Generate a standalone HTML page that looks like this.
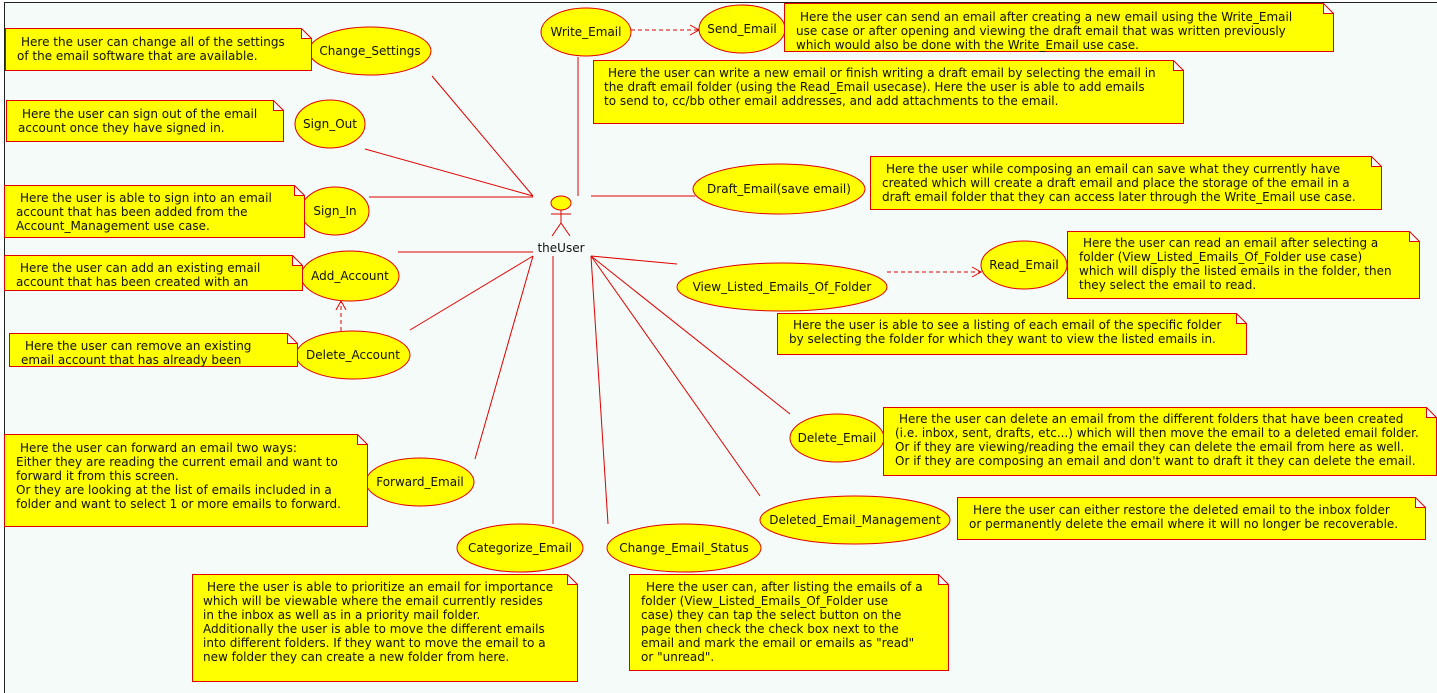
<!DOCTYPE html>
<html><head><meta charset="utf-8"><style>
html,body{margin:0;padding:0;background:#fff;width:1437px;height:693px;overflow:hidden}
svg{display:block}
text{font-family:"DejaVu Sans","Liberation Sans",sans-serif;font-size:12px;fill:#111}
.n{fill:#ffff00;stroke:#e00000;stroke-width:1}
.e{fill:#ffff00;stroke:#e00000;stroke-width:1}
.l{stroke:#e00000;stroke-width:1;fill:none}
.d{stroke:#e00000;stroke-width:1;fill:none;stroke-dasharray:4,3}
.c{text-anchor:middle}
</style></head><body>
<svg width="1437" height="693" xmlns="http://www.w3.org/2000/svg">
<rect x="0" y="0" width="1437" height="693" fill="#fff"/>
<rect x="4.5" y="2.5" width="1440" height="700" fill="#f5fbf8" stroke="#222" stroke-width="1"/>

<!-- lines -->
<line class="l" x1="533" y1="196" x2="432" y2="76"/>
<line class="l" x1="533" y1="196" x2="365" y2="149"/>
<line class="l" x1="533" y1="197" x2="369" y2="197"/>
<line class="l" x1="578" y1="196" x2="578" y2="57"/>
<line class="l" x1="591" y1="196" x2="695" y2="196"/>
<line class="l" x1="533" y1="252" x2="398" y2="252"/>
<line class="l" x1="533" y1="256" x2="410" y2="330"/>
<line class="l" x1="533" y1="256" x2="475" y2="459"/>
<line class="l" x1="553" y1="256" x2="553" y2="524"/>
<line class="l" x1="591" y1="256" x2="608" y2="524"/>
<line class="l" x1="591" y1="256" x2="760" y2="496"/>
<line class="l" x1="591" y1="256" x2="790" y2="414"/>
<line class="l" x1="591" y1="256" x2="677" y2="264"/>
<line class="d" x1="631" y1="30" x2="699" y2="30"/>
<polyline class="l" points="690,25 699,30 690,35"/>
<line class="d" x1="341" y1="331" x2="341" y2="301"/>
<polyline class="l" points="336,310 341,301 346,310"/>
<line class="d" x1="887" y1="272" x2="981" y2="272"/>
<polyline class="l" points="972,267 981,272 972,277"/>

<!-- actor -->
<ellipse cx="561" cy="203" rx="10" ry="7" class="e"/>
<line class="l" x1="561" y1="210" x2="561" y2="223"/>
<line class="l" x1="551" y1="214" x2="571" y2="214"/>
<polyline class="l" points="552,236 561,223 570,236"/>
<text x="561" y="252" class="c">theUser</text>

<!-- ellipses -->
<ellipse class="e" cx="586" cy="32" rx="45" ry="24"/><text class="c" x="586" y="36">Write_Email</text>
<ellipse class="e" cx="742" cy="29" rx="43" ry="24"/><text class="c" x="742" y="33">Send_Email</text>
<ellipse class="e" cx="370" cy="51" rx="61" ry="24"/><text class="c" x="370" y="55">Change_Settings</text>
<ellipse class="e" cx="330" cy="124" rx="35" ry="24"/><text class="c" x="330" y="128">Sign_Out</text>
<ellipse class="e" cx="335" cy="211" rx="34" ry="24"/><text class="c" x="335" y="215">Sign_In</text>
<ellipse class="e" cx="350" cy="276" rx="49" ry="25"/><text class="c" x="350" y="280">Add_Account</text>
<ellipse class="e" cx="353" cy="355" rx="57" ry="24"/><text class="c" x="353" y="359">Delete_Account</text>
<ellipse class="e" cx="779" cy="189" rx="86" ry="25"/><text class="c" x="779" y="193">Draft_Email(save email)</text>
<ellipse class="e" cx="1024" cy="265" rx="43" ry="24"/><text class="c" x="1024" y="269">Read_Email</text>
<ellipse class="e" cx="782" cy="287" rx="105" ry="24"/><text class="c" x="782" y="291">View_Listed_Emails_Of_Folder</text>
<ellipse class="e" cx="837" cy="438" rx="47" ry="24"/><text class="c" x="837" y="442">Delete_Email</text>
<ellipse class="e" cx="855" cy="520" rx="95" ry="24"/><text class="c" x="855" y="524">Deleted_Email_Management</text>
<ellipse class="e" cx="420" cy="482" rx="54" ry="24"/><text class="c" x="420" y="486">Forward_Email</text>
<ellipse class="e" cx="520" cy="548" rx="63" ry="24"/><text class="c" x="520" y="552">Categorize_Email</text>
<ellipse class="e" cx="684" cy="548" rx="77" ry="24"/><text class="c" x="684" y="552">Change_Email_Status</text>

<!-- notes: path with folded corner -->
<g>
<path class="n" d="M5.5,28.5 H301.5 L311.5,38.5 V70.5 H5.5 Z M301.5,28.5 V38.5 H311.5"/>
<text x="21" y="46">Here the user can change all of the settings</text>
<text x="17" y="60">of the email software that are available.</text>

<path class="n" d="M784.5,3.5 H1323.5 L1333.5,13.5 V51.5 H784.5 Z M1323.5,3.5 V13.5 H1333.5"/>
<text x="800" y="21">Here the user can send an email after creating a new email using the Write_Email</text>
<text x="796" y="35">use case or after opening and viewing the draft email that was written previously</text>
<text x="796" y="49">which would also be done with the Write_Email use case.</text>

<path class="n" d="M593.5,60.5 H1173.5 L1183.5,70.5 V123.5 H593.5 Z M1173.5,60.5 V70.5 H1183.5"/>
<text x="608" y="77">Here the user can write a new email or finish writing a draft email by selecting the email in</text>
<text x="604" y="91">the draft email folder (using the Read_Email usecase). Here the user is able to add emails</text>
<text x="604" y="105">to send to, cc/bb other email addresses, and add attachments to the email.</text>

<path class="n" d="M6.5,100.5 H273.5 L283.5,110.5 V141.5 H6.5 Z M273.5,100.5 V110.5 H283.5"/>
<text x="22" y="118">Here the user can sign out of the email</text>
<text x="18" y="132">account once they have signed in.</text>

<path class="n" d="M4.5,185.5 H294.5 L304.5,195.5 V237.5 H4.5 Z M294.5,185.5 V195.5 H304.5"/>
<text x="20" y="202">Here the user is able to sign into an email</text>
<text x="16" y="216">account that has been added from the</text>
<text x="16" y="230">Account_Management use case.</text>

<path class="n" d="M4.5,255.5 H292.5 L302.5,265.5 V290.5 H4.5 Z M292.5,255.5 V265.5 H302.5"/>
<text x="20" y="272">Here the user can add an existing email</text>
<text x="16" y="286">account that has been created with an</text>

<path class="n" d="M9.5,333.5 H287.5 L297.5,343.5 V366.5 H9.5 Z M287.5,333.5 V343.5 H297.5"/>
<text x="25" y="350">Here the user can remove an existing</text>
<text x="21" y="364">email account that has already been</text>

<path class="n" d="M870.5,156.5 H1371.5 L1381.5,166.5 V209.5 H870.5 Z M1371.5,156.5 V166.5 H1381.5"/>
<text x="886" y="173">Here the user while composing an email can save what they currently have</text>
<text x="882" y="187">created which will create a draft email and place the storage of the email in a</text>
<text x="882" y="201">draft email folder that they can access later through the Write_Email use case.</text>

<path class="n" d="M1067.5,231.5 H1409.5 L1419.5,241.5 V298.5 H1067.5 Z M1409.5,231.5 V241.5 H1419.5"/>
<text x="1083" y="247">Here the user can read an email after selecting a</text>
<text x="1079" y="261">folder (View_Listed_Emails_Of_Folder use case)</text>
<text x="1079" y="275">which will disply the listed emails in the folder, then</text>
<text x="1079" y="289">they select the email to read.</text>

<path class="n" d="M777.5,313.5 H1236.5 L1246.5,323.5 V354.5 H777.5 Z M1236.5,313.5 V323.5 H1246.5"/>
<text x="793" y="329">Here the user is able to see a listing of each email of the specific folder</text>
<text x="789" y="343">by selecting the folder for which they want to view the listed emails in.</text>

<path class="n" d="M883.5,407.5 H1426.5 L1436.5,417.5 V475.5 H883.5 Z M1426.5,407.5 V417.5 H1436.5"/>
<text x="899" y="423">Here the user can delete an email from the different folders that have been created</text>
<text x="895" y="437">(i.e. inbox, sent, drafts, etc...) which will then move the email to a deleted email folder.</text>
<text x="895" y="451">Or if they are viewing/reading the email they can delete the email from here as well.</text>
<text x="895" y="465">Or if they are composing an email and don't want to draft it they can delete the email.</text>

<path class="n" d="M957.5,497.5 H1415.5 L1425.5,507.5 V539.5 H957.5 Z M1415.5,497.5 V507.5 H1425.5"/>
<text x="973" y="514">Here the user can either restore the deleted email to the inbox folder</text>
<text x="969" y="528">or permanently delete the email where it will no longer be recoverable.</text>

<path class="n" d="M4.5,434.5 H357.5 L367.5,444.5 V526.5 H4.5 Z M357.5,434.5 V444.5 H367.5"/>
<text x="20" y="452">Here the user can forward an email two ways:</text>
<text x="16" y="466"> Either they are reading the current email and want to</text>
<text x="16" y="480">forward it from this screen.</text>
<text x="16" y="494"> Or they are looking at the list of emails included in a</text>
<text x="16" y="508">folder and want to select 1 or more emails to forward.</text>

<path class="n" d="M192.5,574.5 H567.5 L577.5,584.5 V681.5 H192.5 Z M567.5,574.5 V584.5 H577.5"/>
<text x="207" y="591">Here the user is able to prioritize an email for importance</text>
<text x="203" y="605">which will be viewable where the email currently resides</text>
<text x="203" y="619">in the inbox as well as in a priority mail folder.</text>
<text x="203" y="633">Additionally the user is able to move the different emails</text>
<text x="203" y="647">into different folders. If they want to move the email to a</text>
<text x="203" y="661">new folder they can create a new folder from here.</text>

<path class="n" d="M629.5,574.5 H938.5 L948.5,584.5 V670.5 H629.5 Z M938.5,574.5 V584.5 H948.5"/>
<text x="646" y="591">Here the user can, after listing the emails of a</text>
<text x="641" y="605">folder (View_Listed_Emails_Of_Folder use</text>
<text x="641" y="619">case) they can tap the select button on the</text>
<text x="641" y="633">page then check the check box next to the</text>
<text x="641" y="647">email and mark the email or emails as "read"</text>
<text x="641" y="661">or "unread".</text>
</g>
</svg>
</body></html>
